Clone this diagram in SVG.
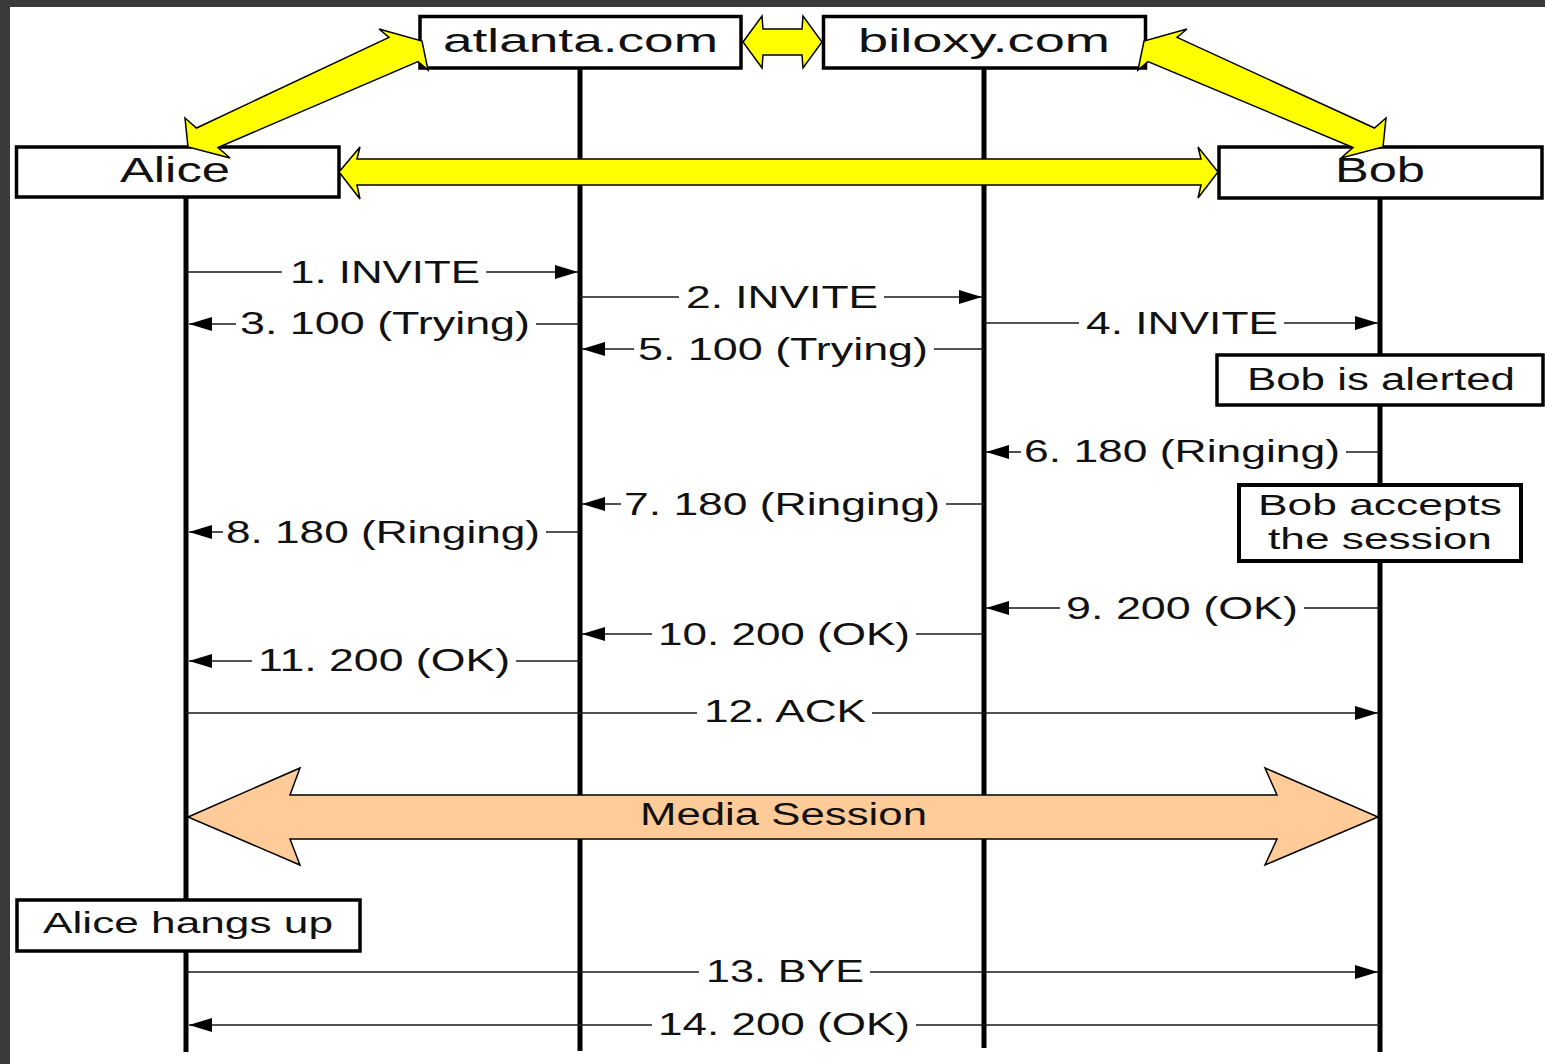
<svg xmlns="http://www.w3.org/2000/svg" width="1545" height="1064" viewBox="0 0 1545 1064">
  <style>
    .frame { fill: #3a3a3a; }
    .box { fill: #ffffff; stroke: #000000; stroke-width: 3.5; }
    .life { stroke: #000000; stroke-width: 5; fill: none; }
    .msg { stroke: #1a1a1a; stroke-width: 1.6; fill: none; }
    .t { font-family: "Liberation Sans", Arial, sans-serif; fill: #111111; }
    .big { font-size: 35px; }
    .mid { font-size: 34px; }
    .lbl { font-size: 31px; }
    .note { font-size: 30px; }
    .yellow { fill: #ffff00; stroke: #000000; stroke-width: 1.5; stroke-linejoin: miter; }
    .peach { fill: #ffcc99; stroke: #000000; stroke-width: 1.5; }
  </style>
  <defs>
    <marker id="ah" markerUnits="userSpaceOnUse" markerWidth="24" markerHeight="16" refX="23" refY="7" orient="auto">
      <path d="M0,0 L23,7 L0,14 Z" fill="#000000"/>
    </marker>
  </defs>

  <rect class="frame" x="0" y="0" width="1545" height="1064"/>
  <rect x="10" y="7" width="1535" height="1057" fill="#ffffff"/>

  <g id="lifelines">
    <line class="life" x1="186" y1="198" x2="186" y2="1052"/>
    <line class="life" x1="580" y1="68" x2="580" y2="1051"/>
    <line class="life" x1="984" y1="68" x2="984" y2="1048"/>
    <line class="life" x1="1380" y1="198" x2="1380" y2="1052"/>
  </g>

  <g id="atlanta">
    <rect class="box" x="420" y="16.5" width="321" height="51.5"/>
    <text class="t mid" x="443" y="52" textLength="275" lengthAdjust="spacingAndGlyphs">atlanta.com</text>
  </g>
  <g id="biloxy">
    <rect class="box" x="823.5" y="16.5" width="322" height="51.5"/>
    <text class="t mid" x="858" y="52" textLength="252" lengthAdjust="spacingAndGlyphs">biloxy.com</text>
  </g>
  <g id="alice">
    <rect class="box" x="16.5" y="147" width="322.5" height="50"/>
    <text class="t big" x="120" y="182" textLength="110" lengthAdjust="spacingAndGlyphs">Alice</text>
  </g>
  <g id="bob">
    <rect class="box" x="1219" y="147" width="323" height="51"/>
    <text class="t big" x="1335" y="182" textLength="90" lengthAdjust="spacingAndGlyphs">Bob</text>
  </g>
  <g id="bob-alerted">
    <rect class="box" x="1217" y="355" width="326" height="50"/>
    <text class="t lbl" x="1247" y="390" textLength="268" lengthAdjust="spacingAndGlyphs">Bob is alerted</text>
  </g>
  <g id="bob-accepts">
    <rect class="box" x="1239" y="485" width="282" height="76" style="stroke-width:4"/>
    <text class="t note" x="1258" y="515" textLength="244" lengthAdjust="spacingAndGlyphs">Bob accepts</text>
    <text class="t note" x="1268" y="549" textLength="224" lengthAdjust="spacingAndGlyphs">the session</text>
  </g>
  <g id="alice-hangs-up">
    <rect class="box" x="17" y="900" width="343" height="51"/>
    <text class="t note" x="43" y="933" textLength="290" lengthAdjust="spacingAndGlyphs">Alice hangs up</text>
  </g>

  <g id="connectors">
    <!-- 1 -->
    <line class="msg" x1="186" y1="272" x2="282" y2="272"/>
    <line class="msg" x1="486" y1="272" x2="578" y2="272" marker-end="url(#ah)"/>
    <text class="t lbl" x="290" y="283" textLength="190" lengthAdjust="spacingAndGlyphs">1. INVITE</text>
    <!-- 2 -->
    <line class="msg" x1="580" y1="297" x2="679" y2="297"/>
    <line class="msg" x1="884" y1="297" x2="982" y2="297" marker-end="url(#ah)"/>
    <text class="t lbl" x="686" y="308" textLength="192" lengthAdjust="spacingAndGlyphs">2. INVITE</text>
    <!-- 3 -->
    <line class="msg" x1="580" y1="324" x2="536" y2="324"/>
    <line class="msg" x1="236" y1="324" x2="189" y2="324" marker-end="url(#ah)"/>
    <text class="t lbl" x="240" y="334" textLength="290" lengthAdjust="spacingAndGlyphs">3. 100 (Trying)</text>
    <!-- 4 -->
    <line class="msg" x1="984" y1="323" x2="1079" y2="323"/>
    <line class="msg" x1="1284" y1="323" x2="1378" y2="323" marker-end="url(#ah)"/>
    <text class="t lbl" x="1086" y="334" textLength="192" lengthAdjust="spacingAndGlyphs">4. INVITE</text>
    <!-- 5 -->
    <line class="msg" x1="984" y1="349" x2="934" y2="349"/>
    <line class="msg" x1="634" y1="349" x2="582" y2="349" marker-end="url(#ah)"/>
    <text class="t lbl" x="638" y="360" textLength="290" lengthAdjust="spacingAndGlyphs">5. 100 (Trying)</text>
    <!-- 6 -->
    <line class="msg" x1="1380" y1="452" x2="1346" y2="452"/>
    <line class="msg" x1="1021" y1="452" x2="986" y2="452" marker-end="url(#ah)"/>
    <text class="t lbl" x="1024" y="462" textLength="316" lengthAdjust="spacingAndGlyphs">6. 180 (Ringing)</text>
    <!-- 7 -->
    <line class="msg" x1="984" y1="504" x2="946" y2="504"/>
    <line class="msg" x1="621" y1="504" x2="582" y2="504" marker-end="url(#ah)"/>
    <text class="t lbl" x="624" y="515" textLength="316" lengthAdjust="spacingAndGlyphs">7. 180 (Ringing)</text>
    <!-- 8 -->
    <line class="msg" x1="580" y1="532" x2="546" y2="532"/>
    <line class="msg" x1="223" y1="532" x2="189" y2="532" marker-end="url(#ah)"/>
    <text class="t lbl" x="226" y="543" textLength="314" lengthAdjust="spacingAndGlyphs">8. 180 (Ringing)</text>
    <!-- 9 -->
    <line class="msg" x1="1380" y1="608" x2="1304" y2="608"/>
    <line class="msg" x1="1060" y1="608" x2="986" y2="608" marker-end="url(#ah)"/>
    <text class="t lbl" x="1066" y="619" textLength="232" lengthAdjust="spacingAndGlyphs">9. 200 (OK)</text>
    <!-- 10 -->
    <line class="msg" x1="984" y1="634" x2="916" y2="634"/>
    <line class="msg" x1="652" y1="634" x2="582" y2="634" marker-end="url(#ah)"/>
    <text class="t lbl" x="658" y="645" textLength="252" lengthAdjust="spacingAndGlyphs">10. 200 (OK)</text>
    <!-- 11 -->
    <line class="msg" x1="580" y1="661" x2="516" y2="661"/>
    <line class="msg" x1="252" y1="661" x2="189" y2="661" marker-end="url(#ah)"/>
    <text class="t lbl" x="258" y="671" textLength="252" lengthAdjust="spacingAndGlyphs">11. 200 (OK)</text>
    <!-- 12 -->
    <line class="msg" x1="186" y1="713" x2="697" y2="713"/>
    <line class="msg" x1="872" y1="713" x2="1378" y2="713" marker-end="url(#ah)"/>
    <text class="t lbl" x="704" y="722" textLength="162" lengthAdjust="spacingAndGlyphs">12. ACK</text>
    <!-- 13 -->
    <line class="msg" x1="186" y1="972" x2="699" y2="972"/>
    <line class="msg" x1="870" y1="972" x2="1378" y2="972" marker-end="url(#ah)"/>
    <text class="t lbl" x="706" y="982" textLength="158" lengthAdjust="spacingAndGlyphs">13. BYE</text>
    <!-- 14 -->
    <line class="msg" x1="1380" y1="1025" x2="916" y2="1025"/>
    <line class="msg" x1="652" y1="1025" x2="189" y2="1025" marker-end="url(#ah)"/>
    <text class="t lbl" x="658" y="1035" textLength="252" lengthAdjust="spacingAndGlyphs">14. 200 (OK)</text>

    <!-- Media session -->
    <g id="media-session">
      <polygon class="peach" points="188,817 300,768 290,795 1277,795 1265,768 1378,817 1265,865 1277,839 290,839 300,865"/>
      <text class="t lbl" x="640" y="825" textLength="287" lengthAdjust="spacingAndGlyphs">Media Session</text>
    </g>

    <!-- yellow arrows -->
    <polygon class="yellow" points="339,172 360,147 357,159 1201,159 1198,147 1218,172 1198,198 1201,185 357,185 360,199"/>
    <polygon class="yellow" points="743,42 762,16 763,29 802,29 803,16 822,42 803,68 802,55 763,55 762,68"/>
    <polygon class="yellow" points="188,147 185,118 196.5,128 389,37.4 379,29 422,41 428,70 418,61.6 218,147.5 230,158"/>
    <polygon class="yellow" points="1383,147 1386,118 1374.5,128 1177,37.4 1187,29 1144,41 1138,70 1148,61.6 1353,147.5 1341,158"/>
  </g>
</svg>
